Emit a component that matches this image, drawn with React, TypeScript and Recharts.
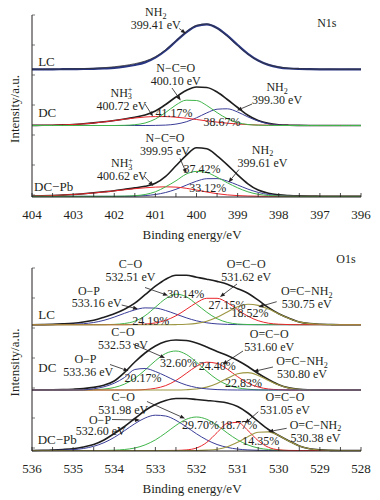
import React from 'react';
import { LineChart, Line, XAxis, YAxis, ReferenceDot, ReferenceLine } from 'recharts';

const SERIF = '"Liberation Serif", "Times New Roman", Times, serif';
const INK = '#231f20';
const C_BLACK = '#1e1e1e';
const C_NAVY = '#283583';
const C_BLUE = '#3a3d98';
const C_GREEN = '#3fb54a';
const C_RED = '#e8262b';
const C_OLIVE = '#9d9642';

// ---------------- N1s (binding energy grid, eV) ----------------
const N1S_EV = [404, 403.75, 403.5, 403.25, 403, 402.75, 402.5, 402.25, 402, 401.75, 401.5, 401.25, 401, 400.75, 400.5, 400.25, 400, 399.75, 399.5, 399.25, 399, 398.75, 398.5, 398.25, 398, 397.75, 397.5, 397.25, 397, 396.75, 396.5, 396.25, 396];
const N1S_TICKS = [396, 396.5, 397, 397.5, 398, 398.5, 399, 399.5, 400, 400.5, 401, 401.5, 402, 402.5, 403, 403.5, 404];

const N1S_LC_FIT = [0, 0, 0, 0.1, 0.2, 0.3, 0.5, 0.9, 1.4, 2.6, 4.3, 6.9, 11.7, 18.8, 28.1, 37.0, 43.3, 44.9, 41.3, 33.6, 24.3, 15.5, 8.8, 4.4, 2.0, 0.8, 0.3, 0.1, 0, 0, 0, 0, 0];
const N1S_LC_RAW = [0.2, 0, 0.3, 0.2, 0.5, 0.6, 1.0, 1.6, 2.5, 3.8, 5.6, 8.2, 12.6, 19.6, 28.5, 37.4, 44.0, 45.4, 41.0, 33.0, 23.6, 15.0, 8.6, 4.6, 2.4, 1.1, 0.6, 0.3, 0.2, 0.3, 0.1, 0.2, 0.1];

const N1S_DC_ENV = [0.1, 0.2, 0.3, 0.6, 1.0, 1.7, 2.6, 3.7, 5.0, 6.5, 8.3, 10.5, 14.5, 21, 28.5, 35, 38.5, 38, 33.5, 26, 18, 10.3, 5, 2.1, 0.8, 0.3, 0.1, 0, 0, 0, 0, 0, 0];
const N1S_DC_NH3 = [0.1, 0.2, 0.3, 0.6, 1.0, 1.6, 2.5, 3.6, 4.9, 6.3, 7.5, 8.5, 8.9, 8.9, 8.3, 7.3, 6.0, 4.6, 3.4, 2.3, 1.5, 0.9, 0.5, 0.3, 0.1, 0.1, 0, 0, 0, 0, 0, 0, 0];
const N1S_DC_NCO = [0, 0, 0, 0, 0, 0, 0, 0, 0, 0.2, 0.8, 2.5, 6.5, 13, 20.5, 25.3, 25, 20, 12.9, 6.8, 2.9, 1.0, 0.3, 0.1, 0, 0, 0, 0, 0, 0, 0, 0, 0];
const N1S_DC_NH2 = [0, 0, 0, 0, 0, 0, 0, 0, 0, 0, 0, 0, 0.1, 0.4, 1.4, 3.7, 7.7, 12.6, 16.3, 16.7, 13.5, 8.6, 4.4, 1.7, 0.5, 0.1, 0, 0, 0, 0, 0, 0, 0];

const N1S_DCPB_ENV = [0.3, 0.5, 0.8, 1.2, 1.8, 2.6, 3.5, 4.5, 5.6, 7.0, 8.4, 10, 13, 20, 30.5, 41, 48.5, 47.5, 40.5, 31.5, 21.5, 12.5, 6.2, 3, 1.5, 0.8, 0.4, 0.2, 0.1, 0, 0, 0, 0];
const N1S_DCPB_NH3 = [0.3, 0.5, 0.8, 1.2, 1.8, 2.5, 3.3, 4.3, 5.4, 6.5, 7.6, 8.5, 9.2, 9.5, 9.2, 8.0, 6.3, 4.3, 2.6, 1.4, 0.7, 0.3, 0.1, 0, 0, 0, 0, 0, 0, 0, 0, 0, 0];
const N1S_DCPB_NCO = [0, 0, 0, 0, 0, 0, 0, 0, 0, 0.2, 0.6, 1.8, 4.5, 9.5, 15.5, 22.2, 24.9, 23.7, 19.1, 13.5, 8.5, 4.5, 2.0, 0.8, 0.3, 0.1, 0, 0, 0, 0, 0, 0, 0];
const N1S_DCPB_NH2 = [0, 0, 0, 0, 0, 0, 0, 0, 0, 0, 0.25, 0.7, 1.8, 3.8, 7.0, 11.1, 15.1, 17.6, 17.7, 15.2, 11.3, 7.2, 3.9, 1.8, 0.7, 0.25, 0.1, 0, 0, 0, 0, 0, 0];

// ---------------- O1s ----------------
const O1S_EV = [536, 535.75, 535.5, 535.25, 535, 534.75, 534.5, 534.25, 534, 533.75, 533.5, 533.25, 533, 532.75, 532.5, 532.25, 532, 531.75, 531.5, 531.25, 531, 530.75, 530.5, 530.25, 530, 529.75, 529.5, 529.25, 529, 528.75, 528.5, 528.25, 528];
const O1S_TICKS = [528, 528.5, 529, 529.5, 530, 530.5, 531, 531.5, 532, 532.5, 533, 533.5, 534, 534.5, 535, 535.5, 536];

const O1S_LC_ENV = [0, 0.1, 0.3, 0.8, 1.5, 2.7, 4.5, 7.5, 11, 15.5, 21.5, 30, 38.5, 45.5, 49.5, 49.5, 47.5, 45.5, 43.3, 40.5, 36, 31.5, 24.5, 17, 11, 6.5, 2.8, 1.1, 0.4, 0.15, 0, 0, 0];
const O1S_LC_OP = [0, 0, 0.1, 0.13, 0.4, 1.0, 2.2, 4.4, 7.6, 11.4, 14.8, 16.8, 16.6, 14.2, 10.6, 6.9, 3.9, 1.9, 0.8, 0.3, 0.1, 0, 0, 0, 0, 0, 0, 0, 0, 0, 0, 0, 0];
const O1S_LC_CO = [0, 0, 0, 0, 0, 0, 0, 0, 0.3, 1.2, 3.5, 9, 17.5, 26, 30.5, 28, 20.5, 12.5, 6, 2.3, 0.7, 0.2, 0, 0, 0, 0, 0, 0, 0, 0, 0, 0, 0];
const O1S_LC_OCO = [0, 0, 0, 0, 0, 0, 0, 0, 0, 0, 0.2, 0.6, 1.8, 4.4, 8.9, 15.3, 22, 26.4, 26.4, 22, 15, 8.5, 4, 1.5, 0.5, 0.1, 0, 0, 0, 0, 0, 0, 0];
const O1S_LC_OCN = [0, 0, 0, 0, 0, 0, 0, 0, 0, 0, 0, 0, 0, 0, 0.1, 0.4, 1.3, 3.5, 7.4, 12.8, 18, 20.5, 19.3, 15.6, 10.7, 6.3, 2.8, 1.1, 0.4, 0.15, 0, 0, 0];

const O1S_DC_ENV = [0, 0.1, 0.2, 0.4, 0.8, 1.4, 2.6, 4.8, 9, 17.5, 28, 37, 44, 48.5, 50, 49.5, 47, 43, 38.5, 34.5, 29.5, 23.5, 16.5, 10.5, 5.2, 2.1, 0.7, 0.2, 0, 0, 0, 0, 0];
const O1S_DC_OP = [0, 0, 0, 0, 0, 0.1, 1.2, 3.2, 6.8, 12.5, 20.5, 21.5, 18.5, 14, 9.0, 5, 2.5, 1.1, 0.4, 0.1, 0, 0, 0, 0, 0, 0, 0, 0, 0, 0, 0, 0, 0];
const O1S_DC_CO = [0, 0, 0, 0, 0, 0, 0.3, 0.9, 2.5, 5.9, 11.7, 20, 29.2, 36.5, 39, 35.6, 27.8, 18.6, 10.6, 5.2, 2.2, 0.8, 0.2, 0, 0, 0, 0, 0, 0, 0, 0, 0, 0];
const O1S_DC_OCO = [0, 0, 0, 0, 0, 0, 0, 0, 0, 0, 0, 0.5, 1.7, 4.4, 9.5, 16.6, 23.7, 27.8, 26.6, 20.8, 13.3, 6.9, 3.0, 1.0, 0.3, 0, 0, 0, 0, 0, 0, 0, 0];
const O1S_DC_OCN = [0, 0, 0, 0, 0, 0, 0, 0, 0, 0, 0, 0, 0, 0, 0, 0.3, 1.0, 2.9, 6.6, 11.7, 16.2, 17.4, 14.6, 9.6, 4.9, 1.9, 0.6, 0.15, 0, 0, 0, 0, 0];

const O1S_DCPB_ENV = [0, 0.2, 0.5, 1.0, 1.8, 3.5, 6, 10.5, 17, 24, 32, 40, 46, 50, 52, 52, 51, 50, 49, 47.5, 44, 37.5, 29, 21, 15, 9.5, 4.6, 1.8, 0.6, 0.15, 0, 0, 0];
const O1S_DCPB_OP = [0, 0, 0.1, 0.33, 0.85, 2.0, 4.2, 7.8, 13.1, 19.8, 26.8, 32.5, 35.3, 34.5, 30.2, 23.7, 16.7, 10.6, 6.0, 3.1, 1.4, 0.57, 0.2, 0.1, 0, 0, 0, 0, 0, 0, 0, 0, 0];
const O1S_DCPB_CO = [0, 0, 0, 0, 0, 0, 0, 0, 0.3, 1.0, 2.5, 5.6, 10.6, 17.5, 25.1, 31.2, 33.5, 31.2, 25.1, 17.5, 10.6, 5.6, 2.5, 1.0, 0.3, 0, 0, 0, 0, 0, 0, 0, 0];
const O1S_DCPB_OCO = [0, 0, 0, 0, 0, 0, 0, 0, 0, 0, 0, 0, 0, 0, 0.1, 0.6, 2.5, 8.1, 17.9, 27.1, 28.1, 20.0, 9.8, 3.2, 0.7, 0.1, 0, 0, 0, 0, 0, 0, 0];
const O1S_DCPB_OCN = [0, 0, 0, 0, 0, 0, 0, 0, 0, 0, 0, 0, 0, 0, 0, 0, 0, 0.4, 1.3, 3.8, 8.2, 13.8, 18.2, 18.6, 14.9, 9.2, 4.5, 1.7, 0.5, 0.1, 0, 0, 0];

// vertical stacking offsets of the three spectra in each panel (layout)
const N_OFF = { lc: 127.7, dc: 71.5, pb: 0.7 };
const O_OFF = { lc: 126.3, dc: 61, pb: 0.5 };

type Series = { key: string; values: number[]; offset: number; color: string; width: number };

const N_SERIES: Series[] = [
  { key: 'lcFit', values: N1S_LC_FIT, offset: N_OFF.lc, color: C_NAVY, width: 2.2 },
  { key: 'lcRaw', values: N1S_LC_RAW, offset: N_OFF.lc, color: '#333', width: 0.8 },
  { key: 'dcEnv', values: N1S_DC_ENV, offset: N_OFF.dc, color: C_BLACK, width: 1.6 },
  { key: 'dcNH2', values: N1S_DC_NH2, offset: N_OFF.dc, color: C_BLUE, width: 1 },
  { key: 'dcNH3', values: N1S_DC_NH3, offset: N_OFF.dc, color: C_RED, width: 1 },
  { key: 'dcNCO', values: N1S_DC_NCO, offset: N_OFF.dc, color: C_GREEN, width: 1 },
  { key: 'pbEnv', values: N1S_DCPB_ENV, offset: N_OFF.pb, color: C_BLACK, width: 1.6 },
  { key: 'pbNH2', values: N1S_DCPB_NH2, offset: N_OFF.pb, color: C_BLUE, width: 1 },
  { key: 'pbNH3', values: N1S_DCPB_NH3, offset: N_OFF.pb, color: C_RED, width: 1 },
  { key: 'pbNCO', values: N1S_DCPB_NCO, offset: N_OFF.pb, color: C_GREEN, width: 1 },
];

const O_SERIES: Series[] = [
  { key: 'lcEnv', values: O1S_LC_ENV, offset: O_OFF.lc, color: C_BLACK, width: 1.6 },
  { key: 'lcOP', values: O1S_LC_OP, offset: O_OFF.lc, color: C_BLUE, width: 1 },
  { key: 'lcCO', values: O1S_LC_CO, offset: O_OFF.lc, color: C_GREEN, width: 1 },
  { key: 'lcOCO', values: O1S_LC_OCO, offset: O_OFF.lc, color: C_RED, width: 1 },
  { key: 'lcOCN', values: O1S_LC_OCN, offset: O_OFF.lc, color: C_OLIVE, width: 1.1 },
  { key: 'dcEnv', values: O1S_DC_ENV, offset: O_OFF.dc, color: C_BLACK, width: 1.6 },
  { key: 'dcCO', values: O1S_DC_CO, offset: O_OFF.dc, color: C_GREEN, width: 1 },
  { key: 'dcOCO', values: O1S_DC_OCO, offset: O_OFF.dc, color: C_RED, width: 1 },
  { key: 'dcOCN', values: O1S_DC_OCN, offset: O_OFF.dc, color: C_OLIVE, width: 1.1 },
  { key: 'dcOP', values: O1S_DC_OP, offset: O_OFF.dc, color: C_BLUE, width: 1 },
  { key: 'pbEnv', values: O1S_DCPB_ENV, offset: O_OFF.pb, color: C_BLACK, width: 1.6 },
  { key: 'pbOP', values: O1S_DCPB_OP, offset: O_OFF.pb, color: C_BLUE, width: 1 },
  { key: 'pbCO', values: O1S_DCPB_CO, offset: O_OFF.pb, color: C_GREEN, width: 1 },
  { key: 'pbOCO', values: O1S_DCPB_OCO, offset: O_OFF.pb, color: C_RED, width: 1 },
  { key: 'pbOCN', values: O1S_DCPB_OCN, offset: O_OFF.pb, color: C_OLIVE, width: 1.1 },
];

type Txt = { ev: number; y: number; lines: string[]; anchor?: 'start' | 'middle' | 'end'; size?: number };
type Arr = [number, number, number, number];

const N_TEXTS: Txt[] = [
  { ev: 396.83, y: 170, lines: ['N1s'] },
  { ev: 403.85, y: 131.5, lines: ['LC'], anchor: 'start', size: 13 },
  { ev: 403.85, y: 80, lines: ['DC'], anchor: 'start', size: 13 },
  { ev: 403.95, y: 6.5, lines: ['DC−Pb'], anchor: 'start', size: 13 },
  { ev: 400.99, y: 180.6, lines: ['NH_2', '399.41 eV'] },
  { ev: 400.506, y: 125.5, lines: ['N−C=O', '400.10 eV'] },
  { ev: 401.824, y: 100.5, lines: ['NH_3^+', '400.72 eV'] },
  { ev: 400.547, y: 80.5, lines: ['41.17%'] },
  { ev: 399.38, y: 71.5, lines: ['38.67%'] },
  { ev: 398.04, y: 106, lines: ['NH_2', '399.30 eV'] },
  { ev: 400.766, y: 55.5, lines: ['N−C=O', '399.95 eV'] },
  { ev: 401.812, y: 30, lines: ['NH_3^+', '400.62 eV'] },
  { ev: 399.866, y: 24, lines: ['37.42%'] },
  { ev: 399.728, y: 5, lines: ['33.12%'] },
  { ev: 398.395, y: 43.5, lines: ['NH_2', '399.61 eV'] },
];
const N_ARROWS: Arr[] = [
  [400.42, 168.5, 400.26, 163.5],
  [400.596, 109, 400.384, 96.5],
  [401.252, 93, 401.058, 80.5],
  [398.65, 93, 399.015, 86.5],
  [400.40, 38.5, 400.243, 23.5],
  [401.277, 21, 401.05, 11],
  [398.967, 27.5, 399.222, 14.5],
];

const O_TEXTS: Txt[] = [
  { ev: 528.365, y: 188, lines: ['O1s'] },
  { ev: 533.605, y: 183, lines: ['C−O', '532.51 eV'] },
  { ev: 534.614, y: 156, lines: ['O−P'] },
  { ev: 534.427, y: 144.5, lines: ['533.16 eV'] },
  { ev: 532.26, y: 153, lines: ['30.14%'] },
  { ev: 531.258, y: 142, lines: ['27.15%'] },
  { ev: 533.111, y: 126, lines: ['24.19%'] },
  { ev: 530.699, y: 134.5, lines: ['18.52%'] },
  { ev: 530.789, y: 183, lines: ['O=C−O', '531.62 eV'] },
  { ev: 529.32, y: 156, lines: ['O=C−NH_2', '530.75 eV'] },
  { ev: 535.847, y: 132.5, lines: ['LC'], anchor: 'start', size: 13 },
  { ev: 533.787, y: 115, lines: ['C−O', '532.53 eV'] },
  { ev: 534.699, y: 88.5, lines: ['O−P'] },
  { ev: 534.631, y: 75.5, lines: ['533.36 eV'] },
  { ev: 532.438, y: 84.5, lines: ['32.60%'] },
  { ev: 531.494, y: 81, lines: ['24.40%'] },
  { ev: 533.301, y: 69.5, lines: ['20.17%'] },
  { ev: 530.857, y: 64, lines: ['22.83%'] },
  { ev: 530.23, y: 113, lines: ['O=C−O', '531.60 eV'] },
  { ev: 529.435, y: 86, lines: ['O=C−NH_2', '530.80 eV'] },
  { ev: 535.847, y: 79.5, lines: ['DC'], anchor: 'start', size: 13 },
  { ev: 533.78, y: 50.5, lines: ['C−O', '531.98 eV'] },
  { ev: 534.346, y: 27, lines: ['O−P'] },
  { ev: 534.33, y: 16.5, lines: ['532.60 eV'] },
  { ev: 531.903, y: 22, lines: ['29.70%'] },
  { ev: 530.974, y: 22, lines: ['18.77%'] },
  { ev: 529.848, y: 50.5, lines: ['O=C−O', '531.05 eV'] },
  { ev: 529.106, y: 22.5, lines: ['O=C−NH_2', '530.38 eV'] },
  { ev: 530.437, y: 6, lines: ['14.35%'] },
  { ev: 535.861, y: 7.5, lines: ['DC−Pb'], anchor: 'start', size: 13 },
];
const O_ARROWS: Arr[] = [
  [533.252, 163.5, 532.693, 155.5],
  [533.819, 146, 533.422, 142],
  [531.015, 167, 531.429, 154],
  [530.05, 149.3, 530.497, 144],
  [533.544, 107, 532.766, 93],
  [534.103, 86.5, 533.653, 80],
  [530.869, 100, 531.368, 86.5],
  [530.14, 84, 530.614, 79.5],
  [533.204, 49.5, 532.28, 32.5],
  [534.055, 31.5, 533.374, 31],
  [530.497, 39.3, 530.821, 27.7],
  [529.807, 22.7, 530.254, 19.3],
];

function buildRows(evs: number[], series: Series[]) {
  return evs.map((ev, i) => {
    const r: Record<string, number> = { ev };
    series.forEach((s) => {
      r[s.key] = s.values[i] + s.offset;
    });
    return r;
  });
}

function rich(s: string, fs: number) {
  const toks = s.split(/(_.|\^.)/).filter((t) => t.length > 0);
  let cur = 0;
  const out: React.ReactNode[] = [];
  toks.forEach((t, i) => {
    if (t.length === 2 && t[0] === '_') {
      const target = fs * 0.22;
      out.push(<tspan key={i} fontSize={fs * 0.68} dy={target - cur}>{t[1]}</tspan>);
      cur = target;
    } else if (t.length === 2 && t[0] === '^') {
      const target = -fs * 0.36;
      const prevSub = i > 0 && toks[i - 1][0] === '_';
      out.push(<tspan key={i} fontSize={fs * 0.68} dy={target - cur} dx={prevSub ? -fs * 0.34 : 0}>{t[1]}</tspan>);
      cur = target;
    } else {
      out.push(<tspan key={i} dy={-cur}>{t}</tspan>);
      cur = 0;
    }
  });
  return out;
}

function textShape(t: Txt) {
  return (p: any) => (
    <g>
      {t.lines.map((ln, i) => (
        <text
          key={i}
          x={p.cx}
          y={p.cy + i * 13}
          textAnchor={t.anchor || 'middle'}
          fontFamily={SERIF}
          fontSize={t.size || 12}
          fill={INK}
        >
          {rich(ln, t.size || 12)}
        </text>
      ))}
    </g>
  );
}

const arrowShape = (p: any) => {
  const { x1, y1, x2, y2 } = p;
  const dx = x2 - x1;
  const dy = y2 - y1;
  const L = Math.hypot(dx, dy) || 1;
  const ux = dx / L;
  const uy = dy / L;
  const hl = 5;
  const hw = 2;
  const bx = x2 - ux * hl;
  const by = y2 - uy * hl;
  return (
    <g>
      <line x1={x1} y1={y1} x2={bx} y2={by} stroke={INK} strokeWidth={0.8} />
      <polygon points={`${x2},${y2} ${bx - uy * hw},${by + ux * hw} ${bx + uy * hw},${by - ux * hw}`} fill={INK} />
    </g>
  );
};

type PanelProps = {
  height: number;
  margin: { top: number; right: number; bottom: number; left: number };
  evs: number[];
  ticks: number[];
  domain: [number, number];
  yMax: number;
  series: Series[];
  texts: Txt[];
  arrows: Arr[];
};

function Panel({ height, margin, evs, ticks, domain, yMax, series, texts, arrows }: PanelProps) {
  const rows = buildRows(evs, series);
  const yTicks: number[] = [];
  for (let v = yMax; v > 0; v -= 10) yTicks.unshift(v);
  return (
    <LineChart width={364} height={height} data={rows} margin={margin}>
      <XAxis
        dataKey="ev"
        type="number"
        domain={domain}
        reversed
        ticks={ticks}
        interval={0}
        height={30}
        tickSize={-4}
        tickMargin={17}
        tickFormatter={(v: number) => (Number.isInteger(v) ? String(v) : '')}
        tick={{ fontFamily: SERIF, fontSize: 13, fill: INK }}
        axisLine={{ stroke: INK, strokeWidth: 1 }}
        tickLine={{ stroke: INK, strokeWidth: 0.8 }}
        label={{
          content: (lp: any) => {
            const vb = lp.viewBox || {};
            return (
              <text x={vb.x + vb.width / 2 - 4.5} y={vb.y + 41.5} textAnchor="middle" fontFamily={SERIF} fontSize={13} fill={INK}>
                Binding energy/eV
              </text>
            );
          },
        }}
      />
      <YAxis
        type="number"
        domain={[0, yMax]}
        ticks={yTicks}
        width={24}
        tickSize={-3}
        tick={() => <g />}
        axisLine={{ stroke: INK, strokeWidth: 1 }}
        tickLine={{ stroke: '#444', strokeWidth: 0.7 }}
        label={{
          content: (lp: any) => {
            const vb = lp.viewBox || {};
            const cy = vb.y + vb.height / 2 + 3;
            return (
              <text x={11} y={cy} transform={`rotate(-90, 11, ${cy})`} textAnchor="middle" fontFamily={SERIF} fontSize={13} fill={INK}>
                Intensity/a.u.
              </text>
            );
          },
        }}
      />
      {series.map((s) => (
        <Line
          key={s.key}
          type="monotone"
          dataKey={s.key}
          stroke={s.color}
          strokeWidth={s.width}
          dot={false}
          activeDot={false}
          isAnimationActive={false}
        />
      ))}
      {arrows.map((a, i) => (
        <ReferenceLine
          key={'a' + i}
          segment={[{ x: a[0], y: a[1] }, { x: a[2], y: a[3] }]}
          ifOverflow="visible"
          shape={arrowShape}
        />
      ))}
      {texts.map((t, i) => (
        <ReferenceDot key={'t' + i} x={t.ev} y={t.y} r={0} ifOverflow="visible" shape={textShape(t)} />
      ))}
    </LineChart>
  );
}

export default function App() {
  return (
    <div style={{ width: 364, background: '#fff', marginTop: -8 }}>
      <Panel
        height={248}
        margin={{ top: 15, right: 11, bottom: 21, left: 0 }}
        evs={N1S_EV}
        ticks={N1S_TICKS}
        domain={[396, 404]}
        yMax={182}
        series={N_SERIES}
        texts={N_TEXTS}
        arrows={N_ARROWS}
      />
      <Panel
        height={250}
        margin={{ top: 20, right: 11, bottom: 17, left: 0 }}
        evs={O1S_EV}
        ticks={O1S_TICKS}
        domain={[528, 536]}
        yMax={183}
        series={O_SERIES}
        texts={O_TEXTS}
        arrows={O_ARROWS}
      />
    </div>
  );
}
